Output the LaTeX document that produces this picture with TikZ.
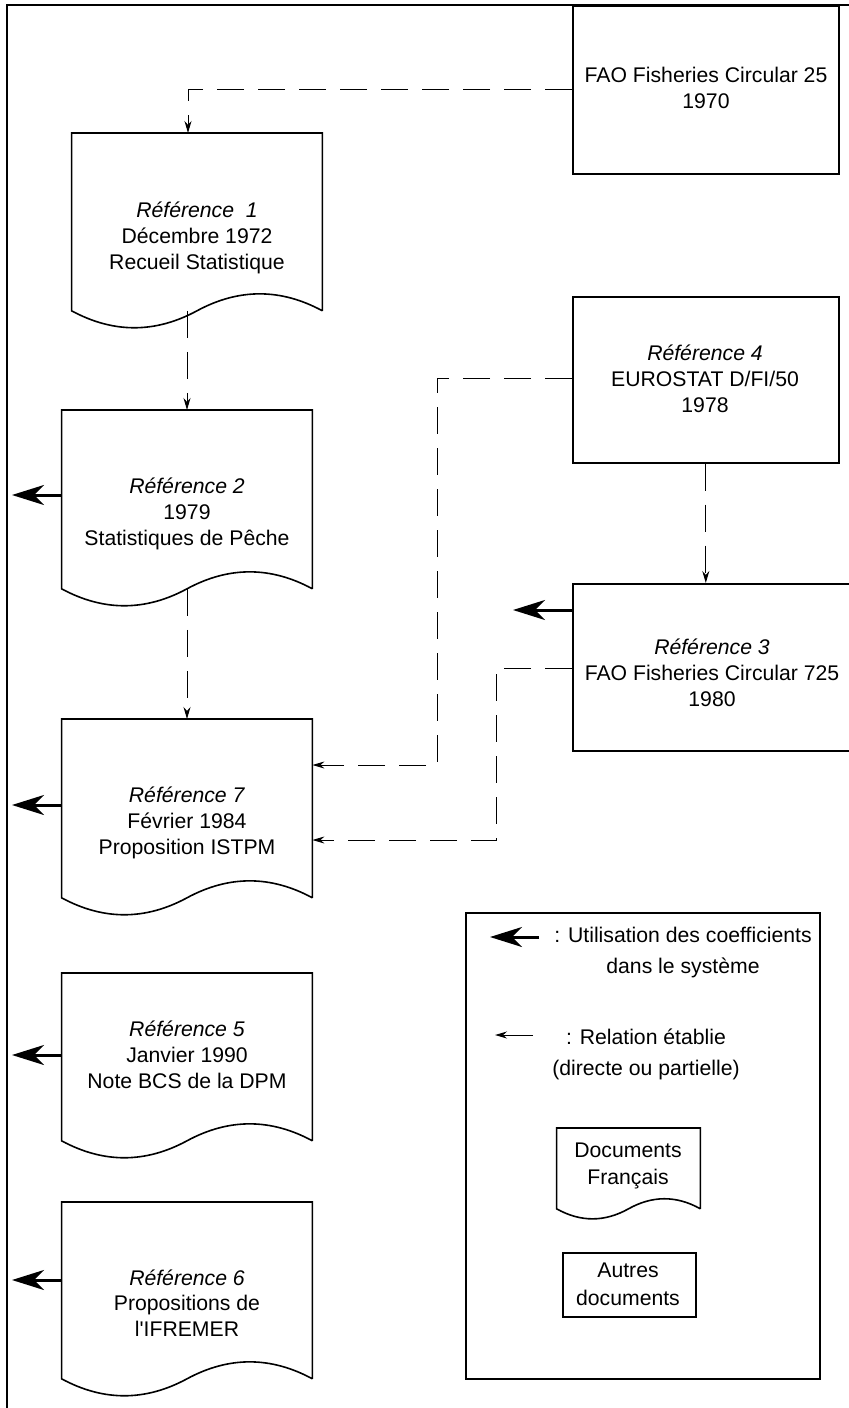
\documentclass[tikz,border=0pt]{standalone}
\usepackage{fontspec}
\setmainfont{Liberation Sans}
\usetikzlibrary{shapes, arrows.meta, positioning, calc}

\newcommand{\docamp}{11.3pt}

\begin{document}
\begin{tikzpicture}[x=0.5pt, y=-0.5pt,
  docu/.style={rectangle, inner sep=0pt, minimum width=125pt, minimum height=88.5pt, anchor=north,
    append after command={\pgfextra{
      \draw[line width=0.8pt] (\tikzlastnode.south east) -- (\tikzlastnode.north east)
        -- (\tikzlastnode.north west) -- (\tikzlastnode.south west)
        .. controls ($(\tikzlastnode.south west)!0.333!(\tikzlastnode.south)+(0,-\docamp)$)
        and ($(\tikzlastnode.south west)!0.667!(\tikzlastnode.south)+(0,-\docamp)$) .. (\tikzlastnode.south)
        .. controls ($(\tikzlastnode.south)!0.333!(\tikzlastnode.south east)+(0,\docamp)$)
        and ($(\tikzlastnode.south)!0.667!(\tikzlastnode.south east)+(0,\docamp)$) .. (\tikzlastnode.south east);
    }}},
  autre/.style={rectangle, draw, line width=0.8pt, inner sep=0pt, anchor=north west},
  txt/.style={align=center, font=\fontsize{10.6}{12.9}\selectfont},
  rel/.style={line width=0.5pt, dash pattern=on 13.5pt off 7pt, -{Stealth[length=6pt, width=3.5pt]}},
  usedin/.style={line width=1.5pt, -{Stealth[length=16pt, width=10pt, inset=5pt]}}]
  \useasboundingbox (0,0) rectangle (849,1408);

  % Frame
  \draw[line width=0.8pt] (7,1408) -- (7,5) -- (849,5);

  % Other documents (right column)
  \node[autre, minimum width=133pt, minimum height=84pt] (fao) at (572,5) {};
  \node[txt] (faot) at (706,88) {FAO Fisheries Circular 25\\1970};
  \node[autre, minimum width=133pt, minimum height=83pt] (ref4) at (572,296) {};
  \node[txt] (ref4t) at (705,379) {\textit{Référence 4}\\EUROSTAT D/FI/50\\1978};
  \node[autre, minimum width=150pt, minimum height=83.5pt] (ref3) at (572,583) {};
  \node[txt] (ref3t) at (712,673) {\textit{Référence 3}\\FAO Fisheries Circular 725\\1980};

  % French documents (left column)
  \node[docu] (ref1) at (197,133) {};
  \node[txt] (ref1t) at (197,238) {\textit{Référence~~1}\\Décembre 1972\\Recueil Statistique};
  \node[docu, minimum height=89pt] (ref2) at (187,410) {};
  \node[txt] (ref2t) at (187,514) {\textit{Référence 2}\\1979\\Statistiques de Pêche};
  \node[docu, minimum height=89pt] (ref7) at (187,719) {};
  \node[txt] (ref7t) at (187,823) {\textit{Référence 7}\\Février 1984\\Proposition ISTPM};
  \node[docu, minimum height=83.5pt] (ref5) at (187,973) {};
  \node[txt] (ref5t) at (187,1055) {\textit{Référence 5}\\Janvier 1990\\Note BCS de la DPM};
  \node[docu, minimum height=88pt] (ref6) at (187,1202) {};
  \node[txt] (ref6t) at (187,1303) {\textit{Référence 6}\\Propositions de\\l\textquotesingle IFREMER};

  % Relations
  \coordinate (b1) at (188,89);
  \coordinate (b2) at (437,378);
  \coordinate (b3) at (437,765);
  \coordinate (b5) at (496,668);
  \coordinate (b6) at (496,840);
  \draw[rel] (fao.west |- b1) -- (b1) -- (b1 |- ref1.north);
  \draw[rel] (ref2.north |- ref1.south) -- (ref2.north);
  \draw[rel] (ref2.south) -- (ref7.north);
  \draw[rel] (ref4.south) -- (ref4.south |- ref3.north);
  \draw[rel] (ref4.west |- b2) -- (b2) -- (b3) -- (ref7.east |- b3);
  \draw[rel] (ref3.west |- b5) -- (b5) -- (b6) -- (ref7.east |- b6);

  % Use in the system
  \coordinate (u2) at (12,495);
  \coordinate (u7) at (12,805);
  \coordinate (u5) at (12,1055);
  \coordinate (u6) at (12,1280);
  \coordinate (u3) at (513,610);
  \draw[usedin] (ref2.west |- u2) -- (u2);
  \draw[usedin] (ref7.west |- u7) -- (u7);
  \draw[usedin] (ref5.west |- u5) -- (u5);
  \draw[usedin] (ref6.west |- u6) -- (u6);
  \draw[usedin] (ref3.west |- u3) -- (u3);

  % Legend
  \node[autre, minimum width=177pt, minimum height=233pt] (leg) at (465,912) {};
  \coordinate (l1a) at (539,937);
  \coordinate (l1b) at (490,937);
  \coordinate (l2a) at (533,1035);
  \coordinate (l2b) at (495,1035);
  \draw[usedin] (l1a) -- (l1b);
  \draw[line width=0.5pt, -{Stealth[length=6pt, width=3.5pt]}] (l2a) -- (l2b);
  \node[txt, font=\fontsize{10.6}{15.5}\selectfont] (leg1t) at (683,953) {: Utilisation des coefficients\\dans le système};
  \node[txt, font=\fontsize{10.6}{15.5}\selectfont] (leg2t) at (646,1054) {: Relation établie\\(directe ou partielle)};
  \renewcommand{\docamp}{6.7pt}
  \node[docu, minimum width=71.5pt, minimum height=40pt] (legdoc) at (628.5,1128) {};
  \node[txt, font=\fontsize{10.6}{13.5}\selectfont] (legdoct) at (628,1166) {Documents\\Français};
  \node[autre, minimum width=66.5pt, minimum height=32pt] (legaut) at (562,1252) {};
  \node[txt, font=\fontsize{10.6}{14}\selectfont] (legautt) at (628,1284) {Autres\\documents};
\end{tikzpicture}
\end{document}
